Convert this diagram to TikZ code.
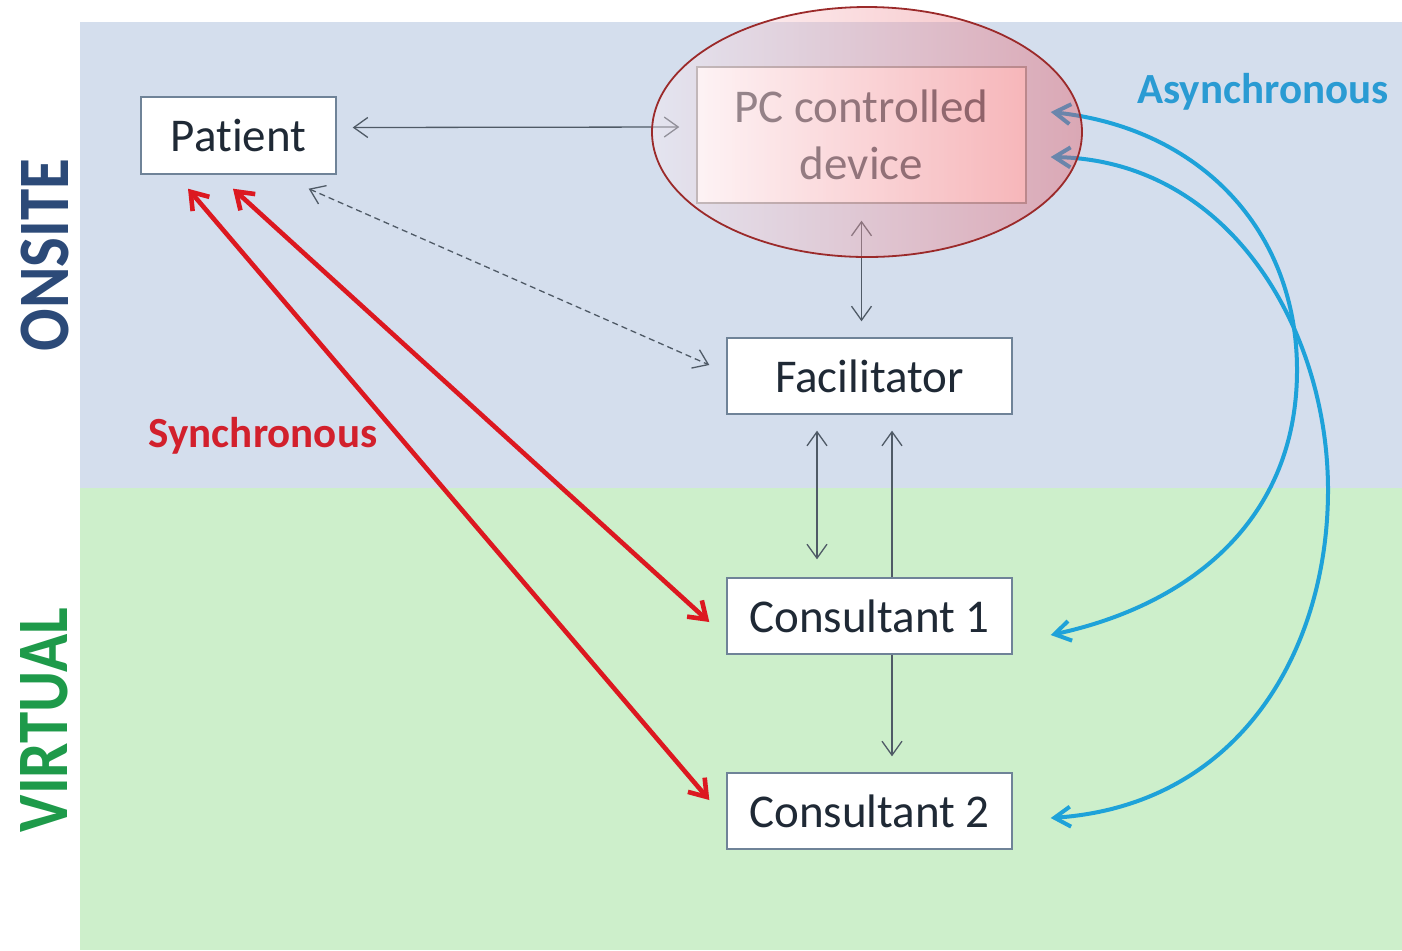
\documentclass[tikz,border=0pt]{standalone}
\usepackage{fontspec}
\setmainfont{Carlito}[Ligatures=NoCommon]
\usetikzlibrary{arrows.meta,shapes.geometric}
\definecolor{bgblue}{HTML}{D4DEED}
\definecolor{bggreen}{HTML}{CDEFCB}
\definecolor{boxborder}{HTML}{6F8398}
\definecolor{boxtext}{HTML}{1F2935}
\definecolor{pctext}{HTML}{58585E}
\definecolor{garrowc}{HTML}{4F5A66}
\definecolor{sred}{HTML}{DC1820}
\definecolor{sblue}{HTML}{1EA2D9}
\definecolor{ellred}{HTML}{9B2A2A}
\definecolor{ellright}{RGB}{230,80,90}
\definecolor{ellleft}{RGB}{255,240,245}
\definecolor{pcpink}{HTML}{FFE9E9}
\definecolor{onsitec}{HTML}{2C4A78}
\definecolor{virtualc}{HTML}{1E9A4A}
\definecolor{asyncc}{HTML}{2A9BD3}
\definecolor{syncc}{HTML}{D2202C}
\newcommand\boxfont{\fontsize{23.5}{28.5}\selectfont}
\newcommand\labfont{\fontsize{21.5}{24}\selectfont\bfseries}
\newcommand\sidefont{\fontsize{31.5}{34}\selectfont\bfseries}
\begin{document}
\begin{tikzpicture}[x=0.5pt,y=-0.5pt,
  box/.style={draw=boxborder, line width=0.7pt, fill=white, inner sep=0pt,
    minimum width=142.5pt, minimum height=38pt, font=\boxfont, text=boxtext},
  garrow/.style={draw=garrowc, line width=0.65pt, >={Straight Barb[length=7pt,width=10pt]}},
  redarrow/.style={draw=sred, line width=2.3pt, >={Straight Barb[length=8pt,width=11pt]}, <->},
  bluearrow/.style={draw=sblue, line width=2pt, >={Straight Barb[length=8pt,width=10pt]}, <->},
  sidelab/.style={rotate=90, inner sep=0pt, font=\sidefont}
]
\useasboundingbox (0,0) rectangle (1402,950);
% backgrounds
\fill[white] (0,0) rectangle (1402,950);
\fill[bgblue] (80,22) rectangle (1402,488);
\fill[bggreen] (80,488) rectangle (1402,950);

% side labels
\node[sidelab, text=onsitec] (onsite) at (45,255) {\scalebox{1}[1.15]{ONSITE}};
\node[sidelab, text=virtualc] (virtual) at (44,720) {\scalebox{1}[1.15]{VIRTUAL}};

% boxes
\node[box, minimum width=97.5pt, minimum height=38.5pt] (P) at (238.5,135.5) {Patient};
\node[box, draw=gray!75, left color=white, right color=pcpink, minimum width=164.5pt,
  minimum height=68pt, align=center, text=pctext] (PC) at (861.5,135) {PC controlled\\device};
\node[box] (F) at (869.5,376) {Facilitator};
\node[box] (C1) at (869.5,616) {Consultant 1};
\node[box] (C2) at (869.5,811) {Consultant 2};

% gray connectors
\draw[garrow, <->] ([shift={(8pt,4pt)}]P.east) -- ([shift={(-8.5pt,4pt)}]PC.west);
\draw[garrow, <->, dashed, dash pattern=on 3pt off 2pt]
  ([shift={(-14pt,-7pt)}]P.south east) -- ([shift={(-8.5pt,5.5pt)}]F.west);
\draw[garrow, <->, shorten <=8.5pt, shorten >=8pt] (PC.south) -- (PC.south |- F.north);
\draw[garrow, <->, shorten <=8pt, shorten >=9pt] ([xshift=-26.25pt]F.south) -- ([xshift=-26.25pt]C1.north);
\draw[garrow, ->, shorten >=8pt] ([xshift=11.25pt]C1.north) -- ([xshift=11.25pt]F.south);
\draw[garrow, ->, shorten >=8pt] ([xshift=11.25pt]C1.south) -- ([xshift=11.25pt]C2.north);

% red synchronous connectors
\draw[redarrow] ([shift={(-25.25pt,-7pt)}]P.south) -- ([shift={(-8.5pt,5.5pt)}]C2.west);
\draw[redarrow] ([shift={(-2.75pt,-7pt)}]P.south) -- ([shift={(-8.5pt,-3pt)}]C1.west);

% blue asynchronous connectors
\coordinate (a1) at ([shift={(12pt,11.5pt)}]PC.east);
\coordinate (a2) at ([shift={(12pt,-11pt)}]PC.east);
\coordinate (b1) at ([shift={(19pt,-9.5pt)}]C1.east);
\coordinate (b2) at ([shift={(19pt,-3.5pt)}]C2.east);
\draw[bluearrow] (a1) .. controls (1200,128) and (1297,230) .. (1297,370)
  .. controls (1297,520) and (1190,605) .. (b1);
\draw[bluearrow] (a2) .. controls (1230,160) and (1328,330) .. (1328,490)
  .. controls (1328,650) and (1240,805) .. (b2);

% highlight ellipse
\node[ellipse, draw=ellred, line width=0.9pt, left color=ellleft, right color=ellright,
  fill opacity=0.38, minimum width=215pt, minimum height=125pt, inner sep=0pt] (E) at (867,132) {};

% labels
\node[font=\labfont, text=asyncc] (async) at (1263,92) {Asynchronous};
\node[font=\labfont, text=syncc] (sync) at (263,436) {Synchronous};
\end{tikzpicture}
\end{document}
